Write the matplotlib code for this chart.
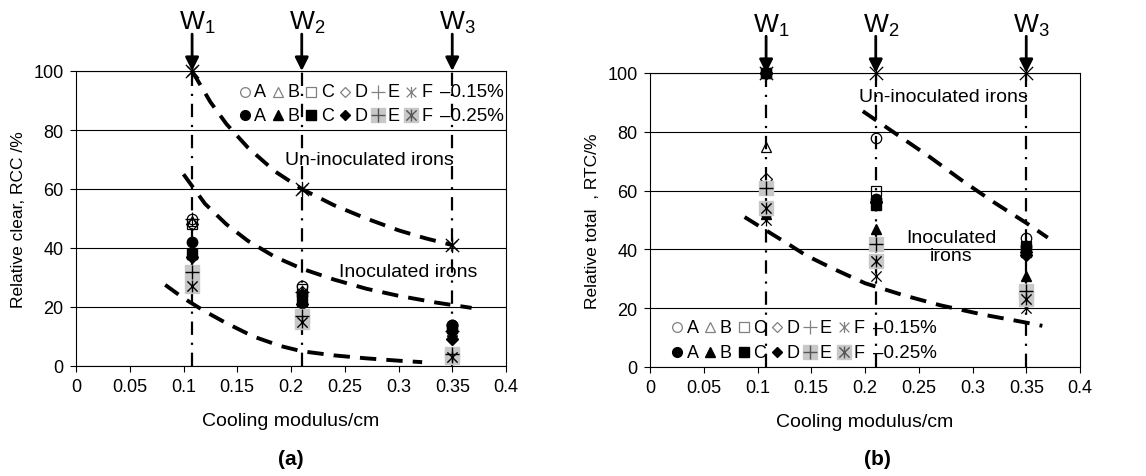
import numpy as np
import matplotlib.pyplot as plt
from matplotlib.path import Path

plt.rcParams['font.family'] = ['Liberation Sans', 'DejaVu Sans']
plt.rcParams['mathtext.fontset'] = 'custom'
plt.rcParams['mathtext.rm'] = 'Liberation Sans'
plt.rcParams['mathtext.default'] = 'regular'

# cooling modulus of the three wedges W1..W3 (cm)
cool_mod = [0.108, 0.21, 0.35]
x_ticks = [0, 0.05, 0.1, 0.15, 0.2, 0.25, 0.3, 0.35, 0.4]
x_ticklabels = ['0', '0.05', '0.1', '0.15', '0.2', '0.25', '0.3', '0.35', '0.4']
y_ticks = [0, 20, 40, 60, 80, 100]
letters = ['A', 'B', 'C', 'D', 'E', 'F']

# (a) relative clear chill, RCC %
a_base = [100, 60, 41]
a_A15 = [50, 27, 14]
a_B15 = [49, 25, 12]
a_C15 = [48, 26, 13]
a_D15 = [48, 25, 12]
a_E15 = [50, 25, 12]
a_F15 = [100, 60, 41]
a_A25 = [42, 24, 14]
a_B25 = [38, 23, 11]
a_C25 = [38, 22, 13]
a_D25 = [37, 21, 9]
a_E25 = [32, 17, 4]
a_F25 = [27, 15, 3]

# (b) relative total chill, RTC %
b_base = [100, 100, 100]
b_A15 = [100, 78, 44]
b_B15 = [75, 57, 40]
b_C15 = [100, 60, 41]
b_D15 = [64, 56, 39]
b_E15 = [61, 42, 26]
b_F15 = [50, 31, 20]
b_A25 = [100, 57, 41]
b_B25 = [52, 47, 31]
b_C25 = [100, 55, 39]
b_D25 = [100, 56, 38]
b_E25 = [61, 42, 26]
b_F25 = [54, 36, 23]

# trend lines (dashed)
a_un_x = [0.108, 0.125, 0.14, 0.16, 0.185, 0.21, 0.24, 0.27, 0.30, 0.325, 0.35]
a_un_y = [100, 89.5, 82, 74, 66, 60, 54.5, 50, 46, 43.3, 41]
a_in1_x = [0.10, 0.12, 0.14, 0.16, 0.185, 0.21, 0.24, 0.27, 0.30, 0.335, 0.368]
a_in1_y = [65, 55, 48, 42.4, 37, 33, 29.3, 26.2, 23.8, 21.5, 19.7]
a_in2_x = [0.083, 0.10, 0.12, 0.14, 0.165, 0.19, 0.21, 0.24, 0.27, 0.30, 0.322]
a_in2_y = [27.5, 23, 18.5, 14.5, 10, 6.8, 5, 3.6, 2.6, 1.8, 1.3]
b_un_x = [0.198, 0.23, 0.26, 0.29, 0.32, 0.35, 0.37]
b_un_y = [87, 79, 71.5, 63.5, 56, 49, 44]
b_in_x = [0.088, 0.11, 0.13, 0.145, 0.17, 0.2, 0.235, 0.27, 0.31, 0.347, 0.365]
b_in_y = [51, 46, 41.5, 38, 33.5, 28.5, 24.5, 21, 17.8, 15.3, 14]

star = Path([(-1, -1), (1, 1), (-1, 1), (1, -1), (0, -1.15), (0, 1.15)],
            [Path.MOVETO, Path.LINETO] * 3)
markers = ['o', '^', 's', 'D', '+', star]
msizes = [7.5, 7.5, 7, 6, 10, 8.5]
GREY = '#c8c8c8'
FS = 14


def draw_panel(ax, open_sets, full_sets, base, curves, ylabel):
    for xv in cool_mod:
        ax.axvline(xv, color='k', lw=1.6, ls=(0, (6, 3.5, 1, 3.5)), zorder=2)
    for cx, cy in curves:
        ax.plot(cx, cy, color='k', lw=2.8, ls=(0, (4.2, 2.6)), zorder=2.5)

    for vals, m, ms in zip(open_sets, markers, msizes):
        ax.plot(cool_mod, vals, ls='none', marker=m, ms=ms, mfc='none',
                mec='k', mew=0.9, zorder=3, clip_on=False)
    for i, (vals, m, ms) in enumerate(zip(full_sets, markers, msizes)):
        if i >= 4:
            ax.plot(cool_mod, vals, ls='none', marker='s', ms=10, mfc=GREY,
                    mec=GREY, zorder=4, clip_on=False)
            ax.plot(cool_mod, vals, ls='none', marker=m, ms=ms, mfc='none',
                    mec='k', mew=1.0, zorder=5, clip_on=False)
        else:
            ax.plot(cool_mod, vals, ls='none', marker=m, ms=ms, mfc='k',
                    mec='k', zorder=4, clip_on=False)
    ax.plot(cool_mod, base, ls='none', marker=star, ms=11, mfc='none',
            mec='k', mew=0.9, zorder=5, clip_on=False)

    ax.set_xlim(0, 0.4)
    ax.set_ylim(0, 100)
    ax.set_xticks(x_ticks)
    ax.set_xticklabels(x_ticklabels)
    ax.set_yticks(y_ticks)
    ax.yaxis.grid(True, color='k', lw=0.8)
    ax.set_axisbelow(True)
    ax.tick_params(labelsize=13, length=4, width=0.8, pad=5)
    for sp in ax.spines.values():
        sp.set_linewidth(0.8)
    ax.set_xlabel('Cooling modulus/cm', fontsize=FS, labelpad=12)
    ax.set_ylabel(ylabel, fontsize=12.5, labelpad=5)

    tr = ax.get_xaxis_transform()
    for i, xv in enumerate(cool_mod):
        ax.annotate('', xy=(xv, 1.0), xycoords=tr, xytext=(xv, 1.125),
                    textcoords=tr,
                    arrowprops=dict(arrowstyle='-|>', color='k', lw=2,
                                    mutation_scale=20, shrinkA=0, shrinkB=0))
        ax.text(xv + 0.005, 1.165, 'W$_{%d}$' % (i + 1), transform=tr,
                ha='center', va='center', fontsize=19)


def draw_key(ax, x0, rows, step=0.031):
    for y, filled, pct in rows:
        for i, (m, ms, lt) in enumerate(zip(markers, msizes, letters)):
            xm = x0 + i * step
            if filled:
                if i >= 4:
                    ax.plot([xm], [y], marker='s', ms=10, mfc=GREY, mec=GREY,
                            zorder=6)
                    ax.plot([xm], [y], marker=m, ms=ms, mfc='none',
                            mec='#555555', mew=1.0, zorder=7)
                else:
                    ax.plot([xm], [y], marker=m, ms=ms - 0.5, mfc='k',
                            mec='k', zorder=7)
            else:
                ax.plot([xm], [y], marker=m, ms=ms - 0.5, mfc='none',
                        mec='#808080', mew=0.9, zorder=7)
            ax.text(xm + 0.009, y, lt, fontsize=13, ha='left', va='center',
                    zorder=7)
        ax.text(x0 + 6 * step - 0.004, y, pct, fontsize=13.5, ha='left',
                va='center', zorder=7)


fig = plt.figure(figsize=(11.46, 4.77), dpi=100)
ax_a = fig.add_axes([76 / 1146, 1 - 367 / 477, 430 / 1146, 295 / 477])
ax_b = fig.add_axes([650 / 1146, 1 - 368 / 477, 430 / 1146, 294 / 477])

draw_panel(ax_a,
           [a_A15, a_B15, a_C15, a_D15, a_E15, a_F15],
           [a_A25, a_B25, a_C25, a_D25, a_E25, a_F25],
           a_base,
           [(a_un_x, a_un_y), (a_in1_x, a_in1_y), (a_in2_x, a_in2_y)],
           'Relative clear, RCC /%')
draw_panel(ax_b,
           [b_A15, b_B15, b_C15, b_D15, b_E15, b_F15],
           [b_A25, b_B25, b_C25, b_D25, b_E25, b_F25],
           b_base,
           [(b_un_x, b_un_y), (b_in_x, b_in_y)],
           'Relative total  , RTC/%')

draw_key(ax_a, 0.157, [(93, False, '\u20130.15%'), (85, True, '\u20130.25%')])
draw_key(ax_b, 0.025, [(13.5, False, '\u20130.15%'), (5, True, '\u20130.25%')])

ax_a.text(0.273, 70, 'Un-inoculated irons', fontsize=FS, ha='center', va='center')
ax_a.text(0.309, 32, 'Inoculated irons', fontsize=FS, ha='center', va='center')
ax_b.text(0.273, 92, 'Un-inoculated irons', fontsize=FS, ha='center', va='center')
ax_b.text(0.28, 41, 'Inoculated\nirons', fontsize=FS, ha='center', va='center',
          linespacing=1.1)

fig.text(291 / 1146, 1 - 460 / 477, '(a)', fontsize=15, fontweight='bold',
         ha='center', va='center')
fig.text(877 / 1146, 1 - 460 / 477, '(b)', fontsize=15, fontweight='bold',
         ha='center', va='center')

fig.savefig('out.png', dpi=100)
